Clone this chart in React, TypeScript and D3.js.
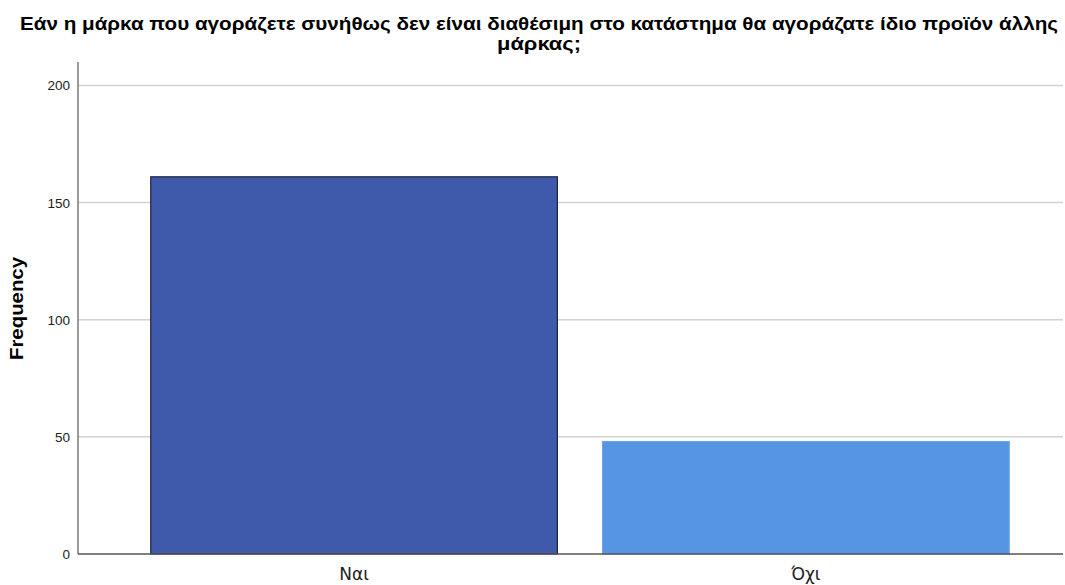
import React from "react";
import * as d3 from "d3";

const categories = ["Ναι", "Όχι"];
const values = [161, 48];
const yTicks = [0, 50, 100, 150, 200];
const titleLines = [
  "Εάν η μάρκα που αγοράζετε συνήθως δεν είναι διαθέσιμη στο κατάστημα θα αγοράζατε ίδιο προϊόν άλλης",
  "μάρκας;",
];
const titleLengths = [1038, 84];
const barFills = ["#3f5aab", "#5595e4"];
const barStrokes = ["#1c2438", "#6aa3e8"];

export default function App() {
  const W = 1065, H = 585;
  const left = 78, right = 1063, top = 62, bottom = 554;
  const y = d3.scaleLinear().domain([0, 210]).range([bottom, top]);
  const x = d3.scaleBand<string>().domain(categories).range([78, 1082]).paddingInner(0.1).paddingOuter(0.161);
  return (
    <svg width={W} height={H} style={{ position: "absolute", left: 0, top: 0, background: "#fff" }}>
      <rect x={0} y={0} width={W} height={H} fill="#fff" />
      {titleLines.map((t, i) => (
        <text key={i} x={539} y={30 + i * 20} textAnchor="middle" fontFamily="Liberation Sans, Arial, sans-serif" fontWeight="bold" fontSize={18.5} fill="#000" textLength={titleLengths[i]} lengthAdjust="spacingAndGlyphs">{t}</text>
      ))}
      {yTicks.filter(t => t > 0).map(t => (
        <line key={t} x1={left} x2={right} y1={y(t)} y2={y(t)} stroke="#d2d2d2" strokeWidth={1.5} />
      ))}
      {yTicks.map(t => (
        <text key={"l" + t} x={70} y={y(t) + 5} textAnchor="end" fontFamily="Liberation Sans, Arial, sans-serif" fontSize={13.5} fill="#222">{t}</text>
      ))}
      {categories.map((c, i) => (
        <rect key={c} x={x(c)!} y={y(values[i])} width={x.bandwidth()} height={bottom - y(values[i])} fill={barFills[i]} stroke={barStrokes[i]} strokeWidth={1.2} />
      ))}
      <line x1={left} x2={left} y1={top} y2={bottom} stroke="#7a7a7a" strokeWidth={1.5} />
      <line x1={left} x2={right} y1={bottom} y2={bottom} stroke="#555" strokeWidth={1.5} />
      {categories.map(c => (
        <text key={"x" + c} x={x(c)! + x.bandwidth() / 2} y={580} textAnchor="middle" fontFamily="DejaVu Sans, sans-serif" fontSize={17} fill="#222">{c}</text>
      ))}
      <text transform={`translate(23,${(257 + 360) / 2}) rotate(-90)`} textAnchor="middle" fontFamily="Liberation Sans, Arial, sans-serif" fontWeight="bold" fontSize={19} fill="#000" textLength={103} lengthAdjust="spacingAndGlyphs">Frequency</text>
    </svg>
  );
}
